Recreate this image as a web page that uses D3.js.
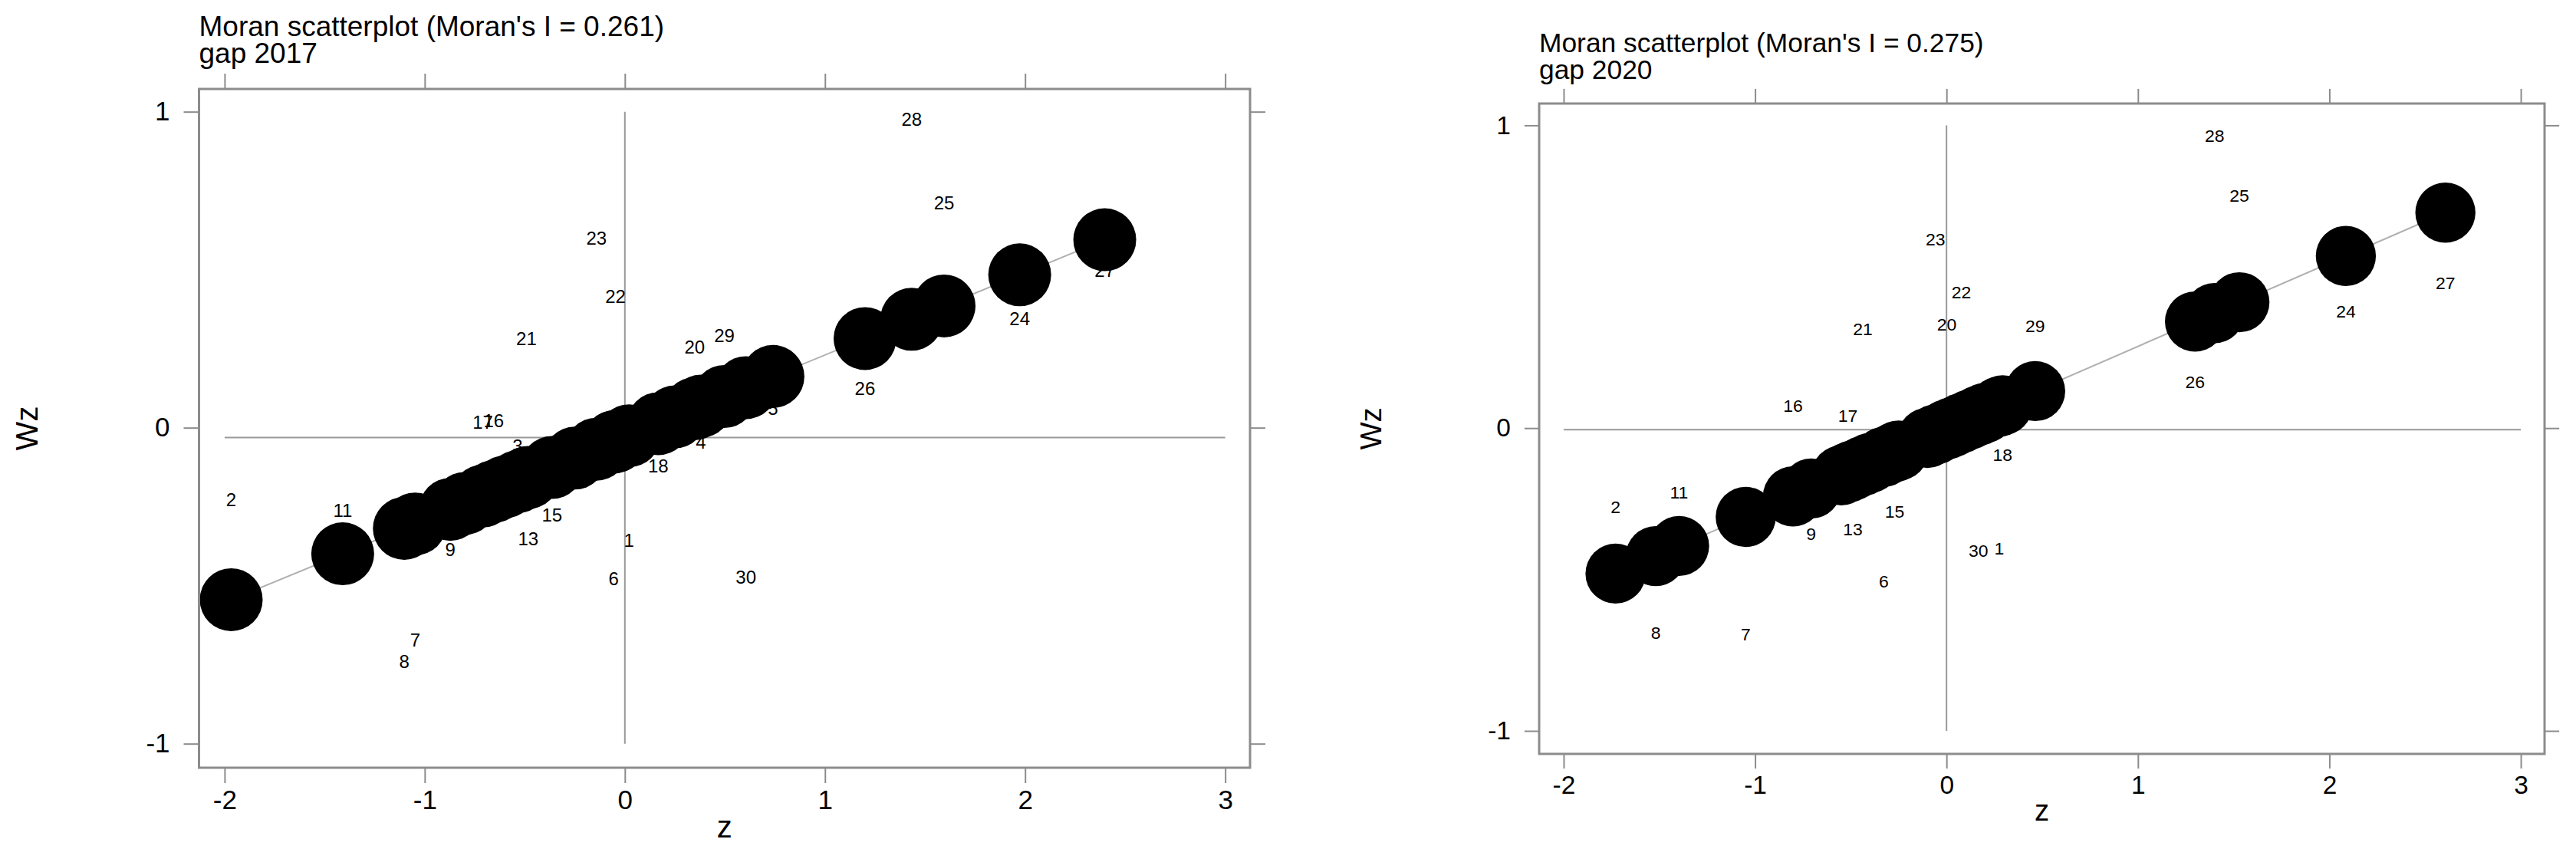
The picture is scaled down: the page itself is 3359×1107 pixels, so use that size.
<!DOCTYPE html>
<html lang="en">
<head>
    <meta charset="UTF-8">
    <title>Moran scatterplots</title>
    <script src="https://cdn.jsdelivr.net/npm/d3@7"></script>
    <style>
        body { margin: 0; background: #fff; }
        text { font-family: "Liberation Sans", Arial, sans-serif; fill: #000; }
    </style>
</head>
<body>
    <script>
        // Region ids (1..30) used as point labels
        const ids = [1, 2, 3, 4, 5, 6, 7, 8, 9, 10, 11, 12, 13, 14, 15,
                     16, 17, 18, 19, 20, 21, 22, 23, 24, 25, 26, 27, 28, 29, 30];

        // gap 2017: standardised value z and spatial lag Wz
        const z2017 = [0.021, -1.967, -0.536, 0.38, 0.74, -0.056, -1.048, -1.102, -0.872, -0.80,
                       -1.41, -0.60, -0.483, -0.25, -0.364, -0.655, -0.71, 0.167, 0.25, 0.349,
                       -0.492, -0.047, -0.142, 1.973, 1.595, 1.20, 2.398, 1.433, 0.497, 0.605];
        const wz2017 = [-0.357, -0.227, -0.057, -0.045, 0.06, -0.478, -0.672, -0.740, -0.385, -0.22,
                        -0.262, -0.17, -0.351, -0.09, -0.276, 0.021, 0.017, -0.122, 0.04, 0.255,
                        0.282, 0.416, 0.600, 0.345, 0.712, 0.124, 0.497, 0.976, 0.291, -0.474];

        // gap 2020
        const z2020 = [0.275, -1.729, -0.55, -0.10, 0.20, -0.328, -1.049, -1.519, -0.707, -0.40,
                       -1.397, 0.03, -0.489, -0.25, -0.271, -0.802, -0.516, 0.293, 0.12, 0.001,
                       -0.437, 0.077, -0.058, 2.086, 1.530, 1.298, 2.606, 1.40, 0.463, 0.167];
        const wz2020 = [-0.397, -0.261, -0.16, -0.04, 0.07, -0.507, -0.680, -0.676, -0.349, -0.12,
                        -0.212, -0.03, -0.334, -0.06, -0.275, 0.075, 0.041, -0.089, 0.08, 0.343,
                        0.328, 0.449, 0.623, 0.386, 0.767, 0.153, 0.480, 0.966, 0.337, -0.404];

        // Moran's I (slope) and mean of Wz for each year
        const years = ['2017', '2020'];
        const moranI = [0.261, 0.275];
        const meanWz = [-0.031, -0.005];

        // Tick labels
        const xTicks = [-2, -1, 0, 1, 2, 3];
        const yTicks = [-1, 0, 1];

        const W = 3359, H = 1107;
        const svg = d3.select('body').append('svg')
            .attr('width', W)
            .attr('height', H);

        svg.append('rect').attr('width', W).attr('height', H).attr('fill', '#fff');

        // panel frames (pixel boxes), text placements and size factor
        const panels = [
            { z: z2017, wz: wz2017, x0: 259.5, x1: 1630, y0: 116, y1: 1001, s: 1,
              titleY: 47, subY: 82, ylabX: 49, xlabY: 1092 },
            { z: z2020, wz: wz2020, x0: 2007, x1: 3318, y0: 135, y1: 983, s: 0.956,
              titleY: 68, subY: 103, ylabX: 1801, xlabY: 1070 }
        ];

        const frameColor = '#8c8c8c';

        panels.forEach((p, k) => {
            const x = d3.scaleLinear().domain([-2.128, 3.124]).range([p.x0, p.x1]);
            const y = d3.scaleLinear().domain([-1.076, 1.072]).range([p.y1, p.y0]);
            const g = svg.append('g');
            const tickLen = 20 * p.s;

            // titles
            g.append('text')
                .attr('x', p.x0).attr('y', p.titleY)
                .style('font-size', (37 * p.s) + 'px')
                .text("Moran scatterplot (Moran's I = " + moranI[k].toFixed(3) + ')');
            g.append('text')
                .attr('x', p.x0).attr('y', p.subY)
                .style('font-size', (37 * p.s) + 'px')
                .text('gap ' + years[k]);

            // axes on all four sides (labels only bottom/left)
            const styleAxis = sel => {
                sel.select('.domain').remove();
                sel.selectAll('line').attr('stroke', frameColor).attr('stroke-width', 2);
                sel.selectAll('text').style('font-size', (35 * p.s) + 'px').attr('fill', '#000');
            };
            g.append('g')
                .attr('transform', 'translate(0,' + p.y1 + ')')
                .call(d3.axisBottom(x).tickValues(xTicks).tickSize(tickLen).tickSizeOuter(0).tickPadding(9).tickFormat(d3.format('d')))
                .call(styleAxis);
            g.append('g')
                .attr('transform', 'translate(0,' + p.y0 + ')')
                .call(d3.axisTop(x).tickValues(xTicks).tickSize(tickLen).tickSizeOuter(0).tickFormat(''))
                .call(styleAxis);
            g.append('g')
                .attr('transform', 'translate(' + p.x0 + ',0)')
                .call(d3.axisLeft(y).tickValues(yTicks).tickSize(tickLen).tickSizeOuter(0).tickPadding(18).tickFormat(d3.format('d')))
                .call(styleAxis);
            g.append('g')
                .attr('transform', 'translate(' + p.x1 + ',0)')
                .call(d3.axisRight(y).tickValues(yTicks).tickSize(tickLen).tickSizeOuter(0).tickFormat(''))
                .call(styleAxis);

            // d3 uses a unicode minus; the reference shows a plain hyphen
            g.selectAll('.tick text').text(function () { return this.textContent.replace('\u2212', '-'); });

            // axis titles
            g.append('text')
                .attr('x', (p.x0 + p.x1) / 2).attr('y', p.xlabY)
                .attr('text-anchor', 'middle')
                .style('font-size', (40 * p.s) + 'px')
                .text('z');
            g.append('text')
                .attr('transform', 'translate(' + p.ylabX + ',' + (p.y0 + p.y1) / 2 + ') rotate(-90)')
                .attr('text-anchor', 'middle')
                .style('font-size', (40 * p.s) + 'px')
                .text('Wz');

            // reference lines at mean z (0) and mean Wz
            g.append('line')
                .attr('x1', x(0)).attr('x2', x(0))
                .attr('y1', y(-1)).attr('y2', y(1))
                .attr('stroke', '#999').attr('stroke-width', 2);
            g.append('line')
                .attr('x1', x(-2)).attr('x2', x(3))
                .attr('y1', y(meanWz[k])).attr('y2', y(meanWz[k]))
                .attr('stroke', '#999').attr('stroke-width', 2);

            const pts = ids.map((id, i) => ({
                id: id,
                z: p.z[i],
                wz: p.wz[i],
                fit: meanWz[k] + moranI[k] * p.z[i]
            }));

            // regression line
            const zExt = d3.extent(pts, d => d.z);
            g.append('line')
                .attr('x1', x(zExt[0])).attr('x2', x(zExt[1]))
                .attr('y1', y(meanWz[k] + moranI[k] * zExt[0]))
                .attr('y2', y(meanWz[k] + moranI[k] * zExt[1]))
                .attr('stroke', '#b0b0b0').attr('stroke-width', 2);

            // point labels at (z, Wz)
            g.selectAll('text.lab')
                .data(pts)
                .enter()
                .append('text')
                .attr('class', 'lab')
                .attr('x', d => x(d.z))
                .attr('y', d => y(d.wz))
                .attr('dy', '0.35em')
                .attr('text-anchor', 'middle')
                .style('font-size', (24 * p.s) + 'px')
                .text(d => d.id);

            // circles on the fitted line
            g.selectAll('circle')
                .data(pts)
                .enter()
                .append('circle')
                .attr('cx', d => x(d.z))
                .attr('cy', d => y(d.fit))
                .attr('r', 41 * p.s)
                .attr('fill', '#000');

            // frame
            g.append('rect')
                .attr('x', p.x0).attr('y', p.y0)
                .attr('width', p.x1 - p.x0).attr('height', p.y1 - p.y0)
                .attr('fill', 'none')
                .attr('stroke', frameColor)
                .attr('stroke-width', 3);
        });
    </script>
</body>
</html>
